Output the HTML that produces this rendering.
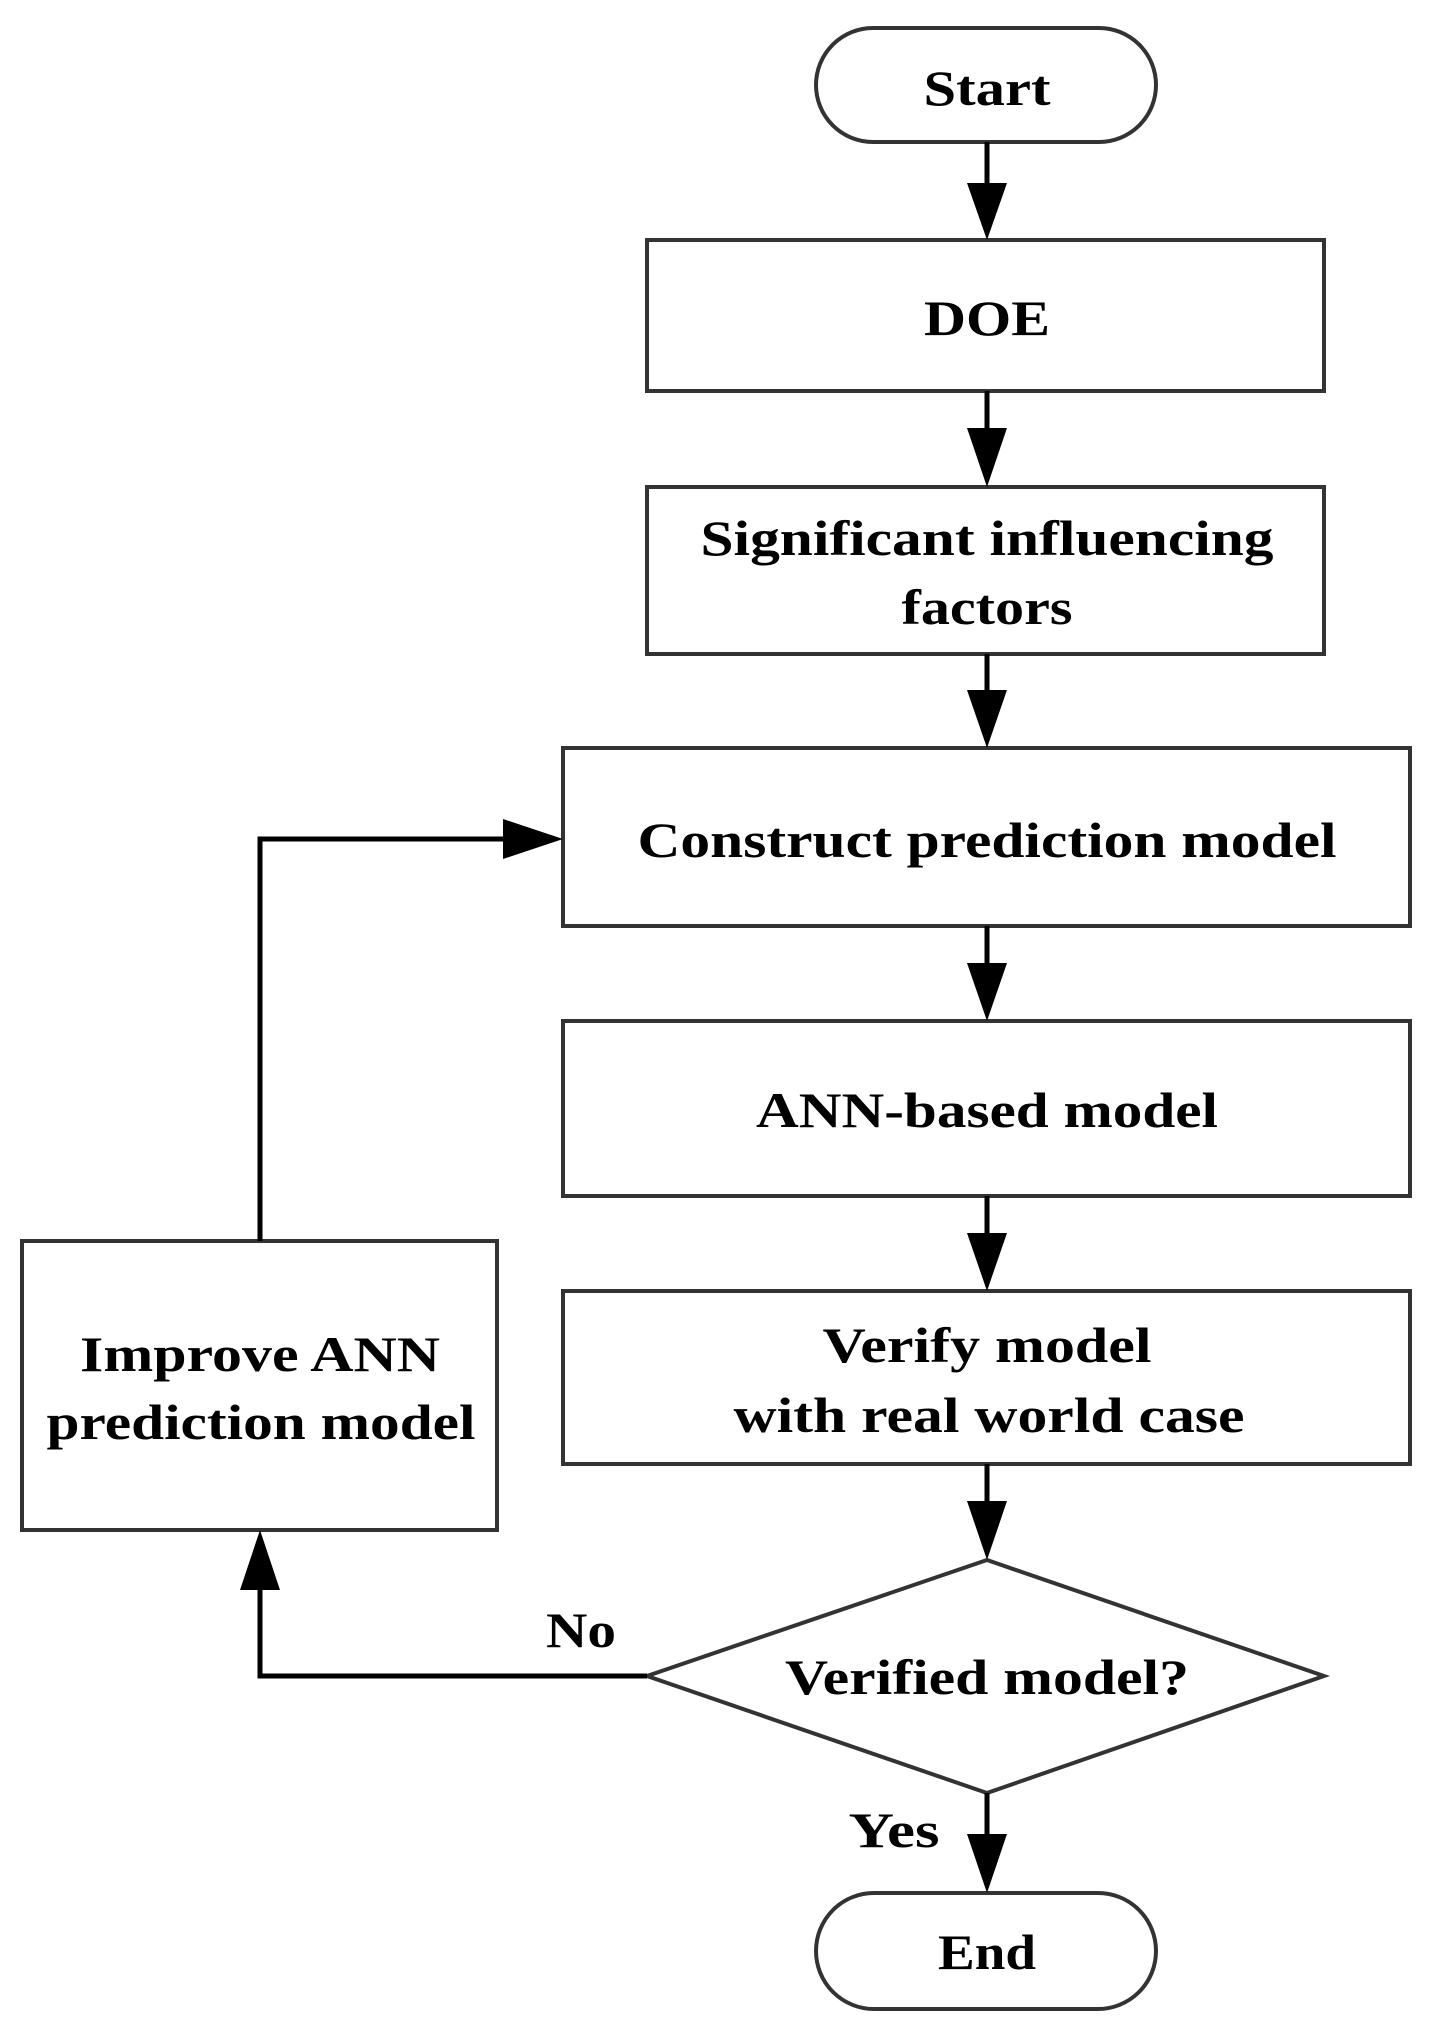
<!DOCTYPE html>
<html><head><style>html,body{margin:0;padding:0;background:#fff;}svg{display:block}</style></head>
<body>
<svg width="1437" height="2033" viewBox="0 0 1437 2033" xmlns="http://www.w3.org/2000/svg">
<defs>
<marker id="a" markerWidth="14" markerHeight="10" refX="14" refY="5" orient="auto" markerUnits="userSpaceOnUse" viewBox="0 0 14 10">
</marker>
</defs>
<g fill="#fff" stroke="#333" stroke-width="4">
<rect x="816" y="28" width="340" height="114" rx="57"/>
<rect x="647" y="240" width="677" height="151"/>
<rect x="647" y="487" width="677" height="167"/>
<rect x="563" y="748" width="847" height="178"/>
<rect x="563" y="1021" width="847" height="175"/>
<rect x="563" y="1291" width="847" height="173"/>
<polygon points="647,1676 987,1560 1324,1676 987,1793"/>
<rect x="816" y="1893" width="340" height="116" rx="58"/>
<rect x="22" y="1241" width="475" height="289"/>
</g>
<g stroke="#000" stroke-width="5" fill="none">
<line x1="987" y1="142" x2="987" y2="185"/>
<line x1="987" y1="391" x2="987" y2="430"/>
<line x1="987" y1="654" x2="987" y2="692"/>
<line x1="987" y1="926" x2="987" y2="965"/>
<line x1="987" y1="1196" x2="987" y2="1235"/>
<line x1="987" y1="1464" x2="987" y2="1503"/>
<line x1="987" y1="1793" x2="987" y2="1836"/>
<polyline points="647,1676 260,1676 260,1588"/>
<polyline points="260,1241 260,839 505,839"/>
</g>
<g fill="#000">
<polygon points="967,183 1007,183 987,240"/>
<polygon points="967,428 1007,428 987,487"/>
<polygon points="967,690 1007,690 987,748"/>
<polygon points="967,963 1007,963 987,1021"/>
<polygon points="967,1233 1007,1233 987,1291"/>
<polygon points="967,1501 1007,1501 987,1560"/>
<polygon points="967,1834 1007,1834 987,1893"/>
<polygon points="240,1590 280,1590 260,1530"/>
<polygon points="503,819 503,859 563,839"/>
</g>
<g font-family="'Liberation Serif',serif" font-weight="bold" font-size="50" fill="#000" lengthAdjust="spacingAndGlyphs">
<text x="987" y="105" text-anchor="middle" textLength="127" lengthAdjust="spacingAndGlyphs">Start</text>
<text x="987" y="335" text-anchor="middle" textLength="126" lengthAdjust="spacingAndGlyphs">DOE</text>
<text x="987" y="555" text-anchor="middle" textLength="573" lengthAdjust="spacingAndGlyphs">Significant influencing</text>
<text x="987" y="624" text-anchor="middle" textLength="171" lengthAdjust="spacingAndGlyphs">factors</text>
<text x="987" y="857" text-anchor="middle" textLength="699" lengthAdjust="spacingAndGlyphs">Construct prediction model</text>
<text x="987" y="1127" text-anchor="middle" textLength="462" lengthAdjust="spacingAndGlyphs">ANN-based model</text>
<text x="987" y="1362" text-anchor="middle" textLength="329" lengthAdjust="spacingAndGlyphs">Verify model</text>
<text x="989" y="1432" text-anchor="middle" textLength="511" lengthAdjust="spacingAndGlyphs">with real world case</text>
<text x="987" y="1694" text-anchor="middle" textLength="404" lengthAdjust="spacingAndGlyphs">Verified model?</text>
<text x="987" y="1969" text-anchor="middle" textLength="98" lengthAdjust="spacingAndGlyphs">End</text>
<text x="260" y="1371" text-anchor="middle" textLength="360" lengthAdjust="spacingAndGlyphs">Improve ANN</text>
<text x="261" y="1439" text-anchor="middle" textLength="429" lengthAdjust="spacingAndGlyphs">prediction model</text>
<text x="581" y="1647" text-anchor="middle" textLength="70" lengthAdjust="spacingAndGlyphs">No</text>
<text x="894" y="1847" text-anchor="middle" textLength="91" lengthAdjust="spacingAndGlyphs">Yes</text>
</g>
</svg>
</body></html>
